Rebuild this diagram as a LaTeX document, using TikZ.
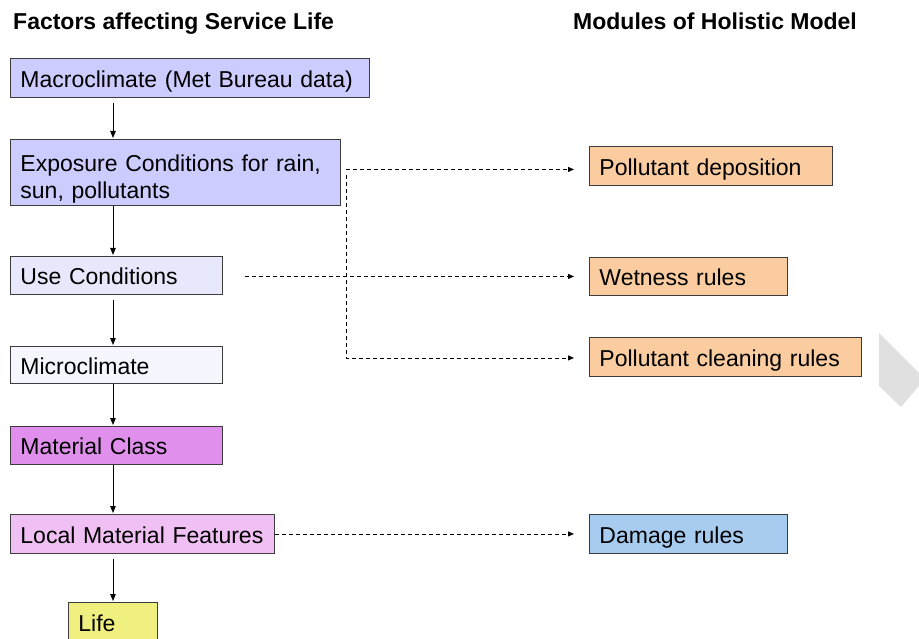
\documentclass[tikz,border=0pt]{standalone}
\usepackage{fontspec}
\setmainfont{Liberation Sans}
\usetikzlibrary{arrows.meta,calc}
\definecolor{cMacro}{RGB}{204,204,255}
\definecolor{cUse}{RGB}{232,232,252}
\definecolor{cMicro}{RGB}{246,246,255}
\definecolor{cMat}{RGB}{224,144,236}
\definecolor{cLocal}{RGB}{240,192,244}
\definecolor{cLife}{RGB}{240,240,128}
\definecolor{cOrange}{RGB}{250,204,160}
\definecolor{cDamage}{RGB}{168,204,240}
\definecolor{cBorder}{RGB}{60,60,60}
\begin{document}
\begin{tikzpicture}[x=1pt,y=-1pt,
  boxbase/.style={draw=cBorder, line width=0.9pt, anchor=north west, inner xsep=10pt, inner ysep=0pt,
    align=left, font=\fontsize{23}{27}\selectfont},
  box/.style={boxbase, text height=21pt, text depth=2pt},
  arr/.style={-{Triangle[length=7pt,width=5.5pt]}, line width=0.9pt, shorten >=1pt},
  dsh/.style={-{Triangle[length=6pt,width=5pt]}, line width=0.8pt, dash pattern=on 4pt off 3pt},
  hdr/.style={anchor=base west, inner sep=0pt, font=\fontsize{23}{27}\selectfont\bfseries}]
\useasboundingbox (0,0) rectangle (919,639);
\begin{scope}
\clip (0,0) rectangle (919,639);

\node[hdr] (h1) at (13,30) {Factors affecting Service Life};
\node[hdr] (h2) at (573,30) {Modules of Holistic Model};

\node[box, fill=cMacro, text width=339pt, minimum height=39pt] (macro) at (10,58) {Macroclimate (Met Bureau data)};
\node[boxbase, text height=29pt, fill=cMacro, text width=310pt, minimum height=66pt] (expo) at (10,139) {Exposure Conditions for rain,\\sun, pollutants};
\node[box, fill=cUse, text width=192pt, minimum height=38pt] (use) at (10,256) {Use Conditions};
\node[box, fill=cMicro, text width=192pt, minimum height=37pt] (micro) at (10,346) {Microclimate};
\node[box, fill=cMat, text width=192pt, minimum height=38pt] (mat) at (10,426) {Material Class};
\node[box, fill=cLocal, text width=244pt, minimum height=39pt] (lmf) at (10,514) {Local Material Features};
\node[box, fill=cLife, text width=69pt, minimum height=40pt] (life) at (68,602) {Life};

\node[box, fill=cOrange, text width=223pt, minimum height=39pt] (pd) at (589,146) {Pollutant deposition};
\node[box, fill=cOrange, text width=178pt, minimum height=38pt] (wet) at (589,257) {Wetness rules};
\node[box, fill=cOrange, text width=252pt, minimum height=39pt] (pcr) at (589,337) {Pollutant cleaning rules};
\node[box, fill=cDamage, text width=178pt, minimum height=39pt] (dmg) at (589,514) {Damage rules};

\coordinate (ax) at (113,0);
\draw[arr] ($(macro.south -| ax)+(0,5)$) -- (expo.north -| ax);
\draw[arr] (expo.south -| ax) -- (use.north -| ax);
\draw[arr] ($(use.south -| ax)+(0,5)$) -- (micro.north -| ax);
\draw[arr] (micro.south -| ax) -- (mat.north -| ax);
\draw[arr] (mat.south -| ax) -- (lmf.north -| ax);
\draw[arr] ($(lmf.south -| ax)+(0,5)$) -- (life.north -| ax);

\draw[dsh] ($(expo.east)+(5,-3)$) -- ($(pd.west |- expo.east)+(-15,-3)$);
\draw[dsh] ($(expo.east)+(5,3)$) |- ($(pcr.west)+(-15,1)$);
\draw[dsh] ($(use.east)+(22,1)$) -- ($(wet.west |- use.east)+(-15,1)$);
\draw[dsh] (lmf.east) -- ($(dmg.west)+(-15,0)$);

\fill[black!12] (879,333) -- (919,373) -- (919,386) -- (901,407) -- (879,386) -- cycle;
\end{scope}
\end{tikzpicture}
\end{document}
